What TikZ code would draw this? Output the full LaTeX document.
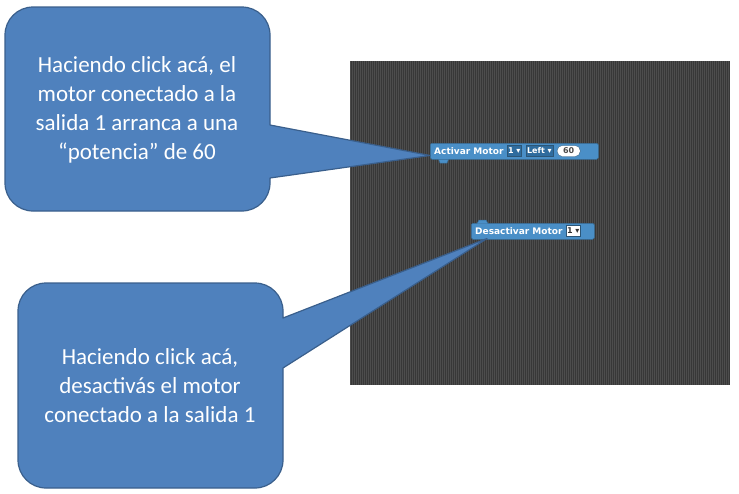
\documentclass[tikz,border=0pt]{standalone}
\usepackage{fontspec}
\setmainfont{Carlito}
\newfontfamily\blockfont{DejaVu Sans}
\usetikzlibrary{positioning, calc}

\definecolor{calloutfill}{HTML}{4F81BD}
\definecolor{calloutdraw}{HTML}{3A5F8C}
\definecolor{panelbg}{HTML}{4D4D4D}
\definecolor{stripedark}{HTML}{383838}
\definecolor{blockblue}{HTML}{4A8FC7}
\definecolor{fieldblue}{HTML}{2F6C9E}

\begin{document}
\begin{tikzpicture}[
  x=1pt, y=-1pt,
  bubble/.style={fill=calloutfill, draw=calloutdraw, line width=1.2pt, line join=round},
  bubbletext/.style={text=white, align=center, font=\fontsize{23}{29}\selectfont},
  block/.style={fill=blockblue, draw=blockblue!75!black, line width=0.5pt, rounded corners=1.5pt,
    minimum height=16pt, inner sep=0pt, anchor=north west},
  blocklabel/.style={text=white, inner sep=1pt, font=\blockfont\bfseries\fontsize{9}{10}\selectfont},
  field/.style={fill=fieldblue, draw=blockblue!60!black, line width=0.3pt, text=white, inner sep=1.2pt,
    minimum height=11pt, font=\blockfont\bfseries\fontsize{8}{9}\selectfont},
  numfield/.style={field, fill=white, text=black!70, rounded corners=5pt, minimum width=23pt},
  tab/.style={fill=blockblue, draw=blockblue!75!black, line width=0.5pt},
]
  \useasboundingbox (0,0) rectangle (739,493);

  % Workspace panel
  \fill[panelbg] (350,61) rectangle (730,385);
  \foreach \x in {351,353,...,729} {
    \draw[stripedark, line width=0.7pt] (\x,61) -- (\x,385);
  }

  % Block: Activar Motor
  \draw[tab] (438,158) -- (440,163) -- (447,163) -- (449,158);
  \node[block, minimum width=168pt] (act) at (430,143) {};
  \node[blocklabel, anchor=west] (actlbl) at (433,151) {Activar Motor};
  \node[field, right=2pt of actlbl] (actport) {1 ▾};
  \node[field, right=4pt of actport] (actdir) {Left ▾};
  \node[numfield, right=4pt of actdir] (actpow) {60};

  % Block: Desactivar Motor
  \node[block, minimum width=123pt] (desact) at (471,223) {};
  \draw[tab] (477,223.5) -- (479,220) -- (486,220) -- (488,223.5);
  \node[blocklabel, anchor=west] (desactlbl) at (474,231) {Desactivar Motor};
  \node[field, fill=white, text=black!80, right=2pt of desactlbl] (desactport) {1 ▾};

  % Callout tips
  \coordinate (tipA) at ([yshift=4pt]act.south west);
  \coordinate (tipB) at ([xshift=16pt,yshift=1pt]desact.south west);

  % Upper callout
  \draw[bubble] (270,125) -- (270,35) arc[start angle=0, end angle=90, radius=28pt]
    -- (33,7) arc[start angle=90, end angle=180, radius=28pt]
    -- (5,183) arc[start angle=180, end angle=270, radius=28pt]
    -- (242,211) arc[start angle=270, end angle=360, radius=28pt]
    -- (270,178) -- (tipA) -- cycle;
  \node[bubbletext] (txtA) at (137,110) {Haciendo click acá, el\\motor conectado a la\\salida 1 arranca a una\\“potencia” de 60};

  % Lower callout
  \draw[bubble] (283,318) -- (283,311) arc[start angle=0, end angle=90, radius=28pt]
    -- (46,283) arc[start angle=90, end angle=180, radius=28pt]
    -- (18,460) arc[start angle=180, end angle=270, radius=28pt]
    -- (255,488) arc[start angle=270, end angle=360, radius=28pt]
    -- (283,368) -- (tipB) -- cycle;
  \node[bubbletext] (txtB) at (150,386) {Haciendo click acá,\\desactivás el motor\\conectado a la salida 1};
\end{tikzpicture}
\end{document}
